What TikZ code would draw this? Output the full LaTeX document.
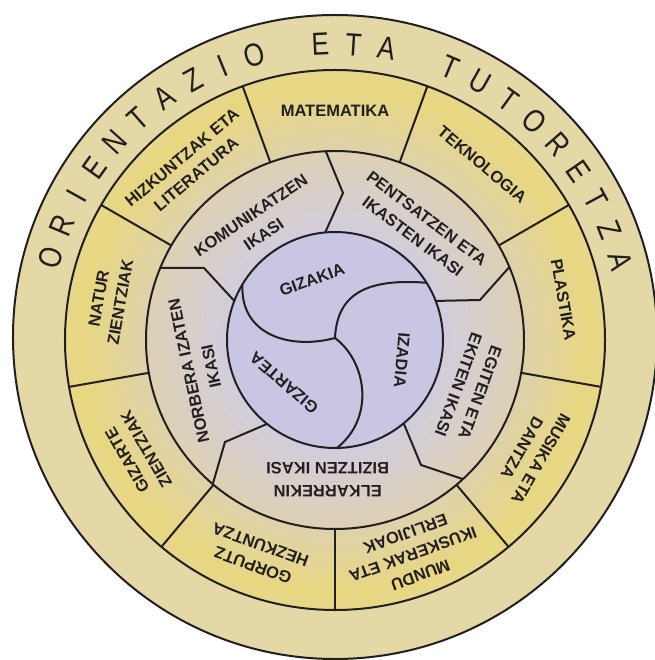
\documentclass[tikz,border=0pt]{standalone}
\usepackage{fontspec}
\setmainfont{Liberation Sans}

\definecolor{inkline}{RGB}{35,31,32}
\definecolor{titlering}{RGB}{228,216,167}
\definecolor{coreviolet}{RGB}{200,198,226}
\definecolor{ringlav}{RGB}{210,205,221}
\definecolor{ringbeige}{RGB}{221,209,180}
\definecolor{subbeige}{RGB}{223,210,170}
\definecolor{subyellow}{RGB}{232,215,128}
\definecolor{subedge}{RGB}{230,215,140}

% one radial fill for the three inner rings (path edge = 25bp)
\pgfdeclareradialshading{wheelfill}{\pgfpoint{0bp}{0bp}}{%
  color(0bp)=(coreviolet); color(10bp)=(coreviolet);
  color(10.05bp)=(ringlav); color(17.5bp)=(ringbeige);
  color(17.6bp)=(subbeige); color(23.6bp)=(subyellow);
  color(25bp)=(subedge); color(50bp)=(subedge)}

\begin{document}
\begin{tikzpicture}[x=1pt, y=1pt,
  divider/.style={draw=inkline, line width=2pt},
  subject/.style={font=\bfseries\fontsize{16.5}{22}\selectfont, text=inkline, align=center, inner sep=0pt},
  ikasi/.style={font=\bfseries\fontsize{16.5}{23}\selectfont, text=inkline, align=center, inner sep=0pt},
  core/.style={font=\bfseries\fontsize{16.5}{20}\selectfont, text=inkline, inner sep=0pt},
  titleletter/.style={font=\fontsize{32}{32}\selectfont, text=inkline, inner sep=0pt}]
\useasboundingbox (-335,-320) rectangle (319,340);

% rings
\filldraw[fill=titlering, divider] (0,3) circle (322);
\shade[shading=wheelfill] (0,0) circle (270);
\draw[divider] (0,0) circle (270);
\draw[divider] (0,0) circle (189);
\draw[divider] (0,0) circle (108);

% subjects
\foreach \a in {150,110,...,-170}
  \draw[divider] (\a:189) -- (\a:270);

% ikasi ring
\draw[divider] (92.8:189) -- (8,147) -- (95.2:108);
\draw[divider] (22.7:189) -- (145,40) -- (21.2:108);
\draw[divider] (-47.4:189) -- (86,-125) -- (-50.5:108);
\draw[divider] (-130.3:189) -- (-110,-102) -- (-129:108);
\draw[divider] (157.6:189) -- (-131,72) -- (158.8:108);

% core
\coordinate (hub) at (0,2);
\draw[divider] (hub) .. controls (-45,-10) and (-95,5) .. (149:108);
\draw[divider] (hub) .. controls (2,45) and (30,62) .. (32:108);
\draw[divider] (hub) .. controls (32,-22) and (40,-78) .. (-89:108);

% title
\foreach \l [count=\i from 0] in {O,R,I,E,N,T,A,Z,I,O,{},E,T,A,{},T,U,T,O,R,E,T,Z,A}
  \node (title\i) [titleletter, rotate={73.8-6.45*\i}, xscale=0.82] at ({163.8-6.45*\i}:296) {\l};

\node (matematika) [subject] at (90:229) {MATEMATIKA};
\node (teknologia) [subject, rotate=-40] at (50:229) {TEKNOLOGIA};
\node (plastika) [subject, rotate=-80] at (10:232) {PLASTIKA};
\node (musika) [subject, rotate=-120] at (-30:227) {MUSIKA ETA\\DANTZA};
\node (mundu) [subject, rotate=-160] at (-70:228) {MUNDU\\IKUSKERAK ETA\\ERLIJIOAK};
\node (gorputz) [subject, rotate=160] at (-110:229) {GORPUTZ\\HEZKUNTZA};
\node (gizartezientziak) [subject, rotate=120] at (-150:229) {GIZARTE\\ZIENTZIAK};
\node (natur) [subject, rotate=80] at (170:229) {NATUR\\ZIENTZIAK};
\node (hizkuntzak) [subject, rotate=40] at (130:227) {HIZKUNTZAK ETA\\LITERATURA};

\node (komunikatzen) [ikasi, rotate=34] at (124:139) {KOMUNIKATZEN\\IKASI};
\node (pentsatzen) [ikasi, rotate=-37] at (53:141) {PENTSATZEN ETA\\IKASTEN IKASI};
\node (egiten) [ikasi, rotate=-110] at (-20:143) {EGITEN ETA\\EKITEN IKASI};
\node (elkarrekin) [ikasi, rotate=180] at (-93:140) {ELKARREKIN\\BIZITZEN IKASI};
\node (norbera) [ikasi, rotate=102] at (-168:138) {NORBERA IZATEN\\IKASI};

\node (gizakia) [core, rotate=20] at (-23,60) {GIZAKIA};
\node (izadia) [core, rotate=-95] at (67,-20) {IZADIA};
\node (gizartea) [core, rotate=139] at (-51,-43) {GIZARTEA};
\end{tikzpicture}
\end{document}
